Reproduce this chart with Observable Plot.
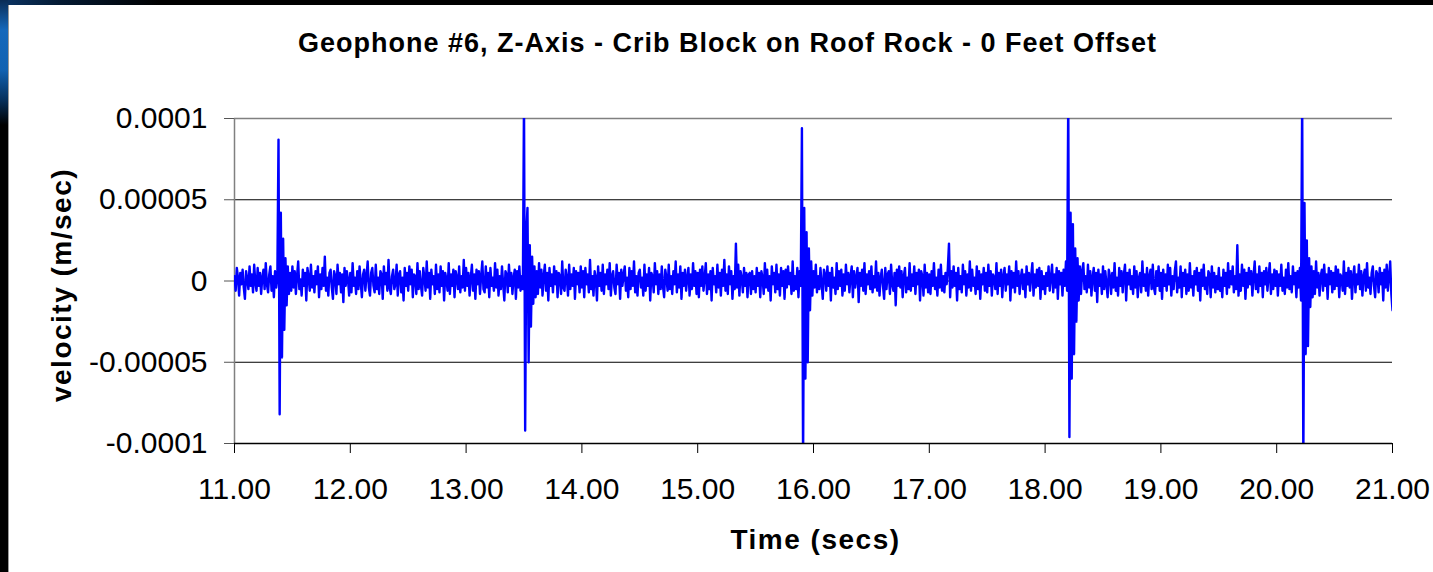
<!DOCTYPE html>
<html>
<head>
<meta charset="utf-8">
<script src="https://cdn.jsdelivr.net/npm/d3@7"></script>
<script src="https://cdn.jsdelivr.net/npm/@observablehq/plot@0.6"></script>
<style>
  html, body { margin: 0; padding: 0; }
  body { width: 1433px; height: 572px; overflow: hidden; background: #000; position: relative;
         font-family: Arial, "Liberation Sans", sans-serif; }
  #topstrip { position: absolute; left: 0; top: 0; width: 1433px; height: 5px;
              background: linear-gradient(to right, #0b3566 0px, #041a33 60px, #000 160px); }
  #leftstrip { position: absolute; left: 0; top: 0; width: 8px; height: 572px;
               background: linear-gradient(to bottom, #0a2c55 0px, #1568bb 30px, #1262b2 70px, #06305c 100px, #000 125px); }
  #panel { position: absolute; left: 8px; top: 5px; width: 1425px; height: 567px; background: #fff;
           border-left: 1px solid #9a9a9a; box-sizing: border-box; }
  #title { position: absolute; left: 0; top: 30px; width: 1455px; text-align: center;
           font: bold 27px/27px Arial, "Liberation Sans", sans-serif; letter-spacing: 1px; color: #000; }
  #chart { position: absolute; left: 9px; top: 80px; }
</style>
</head>
<body>
<div id="topstrip"></div>
<div id="leftstrip"></div>
<div id="panel"></div>
<div id="title">Geophone #6, Z-Axis - Crib Block on Roof Rock - 0 Feet Offset</div>
<div id="chart"></div>
<script>
// ---- data (velocity in units of 1e-6 m/sec, sampled every 0.01 s from 11.00 s) ----
const xLabel = "Time (secs)";
const yLabel = "velocity (m/sec)";
const startTime = 11.00;
const sampleStep = 0.01;
const velocityMicro = [
  // 11.00 - 11.49
  3, -6, 8, 2, -9, 5, -2, 7, -4, -11, 6, 1, -5, 9, -3, 4, -7, 10, -1, -6, 8, -3, 5, -8, 2,
  7, -5, 11, -2, -7, 4, 9, -6, 3, -10, 6, -4, 2, 87, -82, 42, -47, 26, -30, 14, -15, 9, -8, 5, -6,
  // 11.50 - 11.99
  9, -4, 6, -8, 3, 12, -5, 1, -9, 7, -3, 5, -12, 8, 2, -6, 10, -4, 3, -7, 6, -2, 9, -10, 4,
  -5, 8, -3, 15, -6, 2, -9, 5, 7, -4, -11, 6, 3, -8, 10, -2, 5, -7, 4, -13, 8, -3, 6, 1, -9,
  // 12.00 - 12.49
  5, -7, 11, -3, 2, -8, 6, -5, 9, -1, -10, 4, 7, -6, 3, 12, -4, -9, 5, 8, -3, -7, 10, -5, 2,
  -8, 6, 4, -11, 9, -2, 5, -6, 13, -4, -8, 3, 7, -5, -2, 10, -9, 4, 6, -7, 2, -12, 8, -3, 5,
  // 12.50 - 12.99
  -6, 9, -2, 7, -10, 4, 3, -8, 11, -5, 6, -3, -9, 8, 2, -6, 12, -4, 5, -11, 7, -2, 3, -8, 10,
  -5, 4, -7, 9, -3, 6, -12, 5, 1, -6, 11, -8, 4, -3, 7, -10, 6, 2, -5, 9, -7, 3, -4, 13, -6,
  // 13.00 - 13.49
  8, -3, 5, -9, 2, 10, -6, 4, -11, 7, -2, 6, -8, 3, 12, -5, -7, 9, -4, 5, -10, 8, -3, 2, -6,
  11, -4, 7, -9, 3, -5, 9, -2, -12, 6, 4, -7, 10, -3, 5, -8, 2, 7, -11, 6, -4, 9, -6, 3, -5,
  // 13.50 - 13.99
  112, -92, 30, 45, -50, 22, -28, 15, -14, 9, -10, 6, -8, 11, -4, 7, -9, 3, 10, -6, 5, -12, 8, -3, 4,
  -7, 9, -2, 6, -10, 5, 3, -8, 12, -4, -6, 7, 2, -9, 10, -5, 4, -3, 8, -11, 6, -2, 5, -7, 9,
  // 14.00 - 14.49
  -4, 6, -10, 8, -2, 4, -7, 13, -5, 3, -9, 6, 2, -12, 9, -3, 5, -6, 10, -8, 4, -2, 7, -5, 11,
  -9, 3, 6, -4, -8, 10, -2, 5, -11, 7, -3, 4, 9, -6, 2, -10, 8, -5, 6, -3, 12, -7, 3, -9, 5,
  // 14.50 - 14.99
  7, -4, 2, -9, 10, -6, 4, -3, 8, -12, 5, 3, -7, 11, -2, 6, -8, 4, -5, 9, -3, -10, 7, 2, -6,
  10, -5, 3, -8, 6, -2, 12, -7, 4, -4, 9, -11, 5, -3, 7, -6, 2, 8, -9, 4, -5, 11, -3, 6, -8,
  // 15.00 - 15.49
  5, -10, 7, -3, 9, -6, 2, 11, -8, 4, -5, 6, -12, 8, -2, 3, -7, 10, -4, 5, -9, 7, -3, 13, -6,
  4, -8, 9, -2, 6, -11, 3, -5, 23, -4, 10, -9, 6, 2, -7, 8, -3, 5, -10, 4, 5, -8, 6, -5, 3,
  // 15.50 - 15.99
  -7, 8, -3, 5, -10, 6, 2, -8, 11, -4, 7, -6, 3, -12, 9, -2, 5, -7, 10, -5, 4, -9, 8, -3, 6,
  -11, 7, -4, 9, -2, 5, -8, 12, -6, 3, -5, 8, -10, 6, -3, 94, -112, 45, -60, 30, -50, 20, -18, 12, -9,
  // 16.00 - 16.49
  6, -4, 10, -7, 3, -5, 8, -2, -11, 7, 4, -6, 9, -3, 5, -12, 8, -4, 2, -8, 11, -5, 6, -3, 7,
  -9, 4, -6, 10, -2, 5, -7, 3, 9, -10, 6, -4, 2, 8, -13, 5, -3, 7, -6, 11, -8, 4, -2, 6, -5,
  // 16.50 - 16.99
  9, -7, 3, -4, 12, -6, 5, -9, 2, 7, -3, -11, 8, -5, 4, 6, -8, 10, -2, -6, 5, -15, 7, -3, 9,
  -4, 6, -10, 3, 8, -7, 2, -5, 11, -6, 4, -3, 9, -8, 5, -2, 7, -12, 6, 3, -9, 10, -4, 5, -7,
  // 17.00 - 17.49
  4, -8, 6, -3, 11, -5, 2, -9, 7, -4, 10, -6, 3, -7, 5, -2, 8, 23, -10, 6, -4, 9, -3, 5, -12,
  8, -5, 3, -7, 10, -2, 6, -9, 4, -4, 12, -6, 7, -3, 2, -8, 9, -5, 6, -11, 4, -2, 8, -6, 5,
  // 17.50 - 17.99
  -7, 10, -3, 6, -9, 4, 2, -5, 11, -8, 5, -3, 7, -10, 3, 8, -6, 4, -2, 9, -12, 6, -4, 5, -7,
  12, -3, 6, -8, 2, 7, -5, 4, -10, 9, -2, 5, -6, 3, 11, -9, 4, -4, 7, -3, 8, -11, 6, -5, 3,
  // 18.00 - 18.49
  -8, 5, -3, 9, -6, 2, 10, -7, 4, -4, 8, -11, 6, -2, 5, -9, 7, -3, 12, -6, 112, -96, 42, -60, 35,
  -45, 20, -25, 14, -12, 9, -8, 6, 11, -5, 3, -7, 10, -4, 6, -9, 2, 8, -6, 5, -13, 7, -3, 4, -8,
  // 18.50 - 18.99
  9, -5, 6, -2, -10, 7, 3, -8, 5, -4, 11, -6, 2, -9, 8, -3, 6, -7, 4, 10, -12, 5, -2, 7, -5,
  3, -8, 9, -4, 6, -10, 2, 5, -7, 12, -3, 4, -6, 8, -9, 3, 7, -5, 10, -4, -8, 6, -3, 9, -6,
  // 19.00 - 19.49
  5, -11, 7, -3, 4, -6, 10, -2, 8, -9, 3, -5, 6, 12, -7, 2, -4, 9, -10, 5, -3, 7, -8, 4, -6,
  11, -4, 3, -9, 6, -2, 8, -6, 5, -12, 7, -3, 10, -5, 2, -8, 6, 4, -10, 9, -4, 5, -7, 3, -5,
  // 19.50 - 19.99
  8, -6, 2, -10, 7, -3, 5, -8, 11, -4, 6, -2, 9, -7, 3, -5, 22, -9, 4, -6, 10, -3, 7, -11, 5,
  -4, 8, -2, 6, -9, 3, 12, -5, 4, -7, 9, -3, 5, -10, 6, -2, 8, -6, 3, 11, -8, 4, -5, 7, -3,
  // 20.00 - 20.49
  6, -9, 4, -3, 10, -6, 2, -8, 7, -4, 11, -5, 3, -7, 9, -2, 5, -10, 6, -4, 8, -12, 112, -112, 48,
  -45, 25, -40, 14, -16, 9, -10, 6, -8, 12, -4, 5, -9, 3, 7, -6, 10, -3, 4, -11, 8, -2, 6, -7, 5,
  // 20.50 - 20.99
  -5, 9, -3, 7, -10, 4, 2, -6, 12, -8, 5, -3, 8, -4, 6, -11, 3, 9, -7, 4, -2, 10, -5, 6, -9,
  3, 7, -6, 11, -4, 2, -8, 5, 9, -3, -10, 6, 4, -7, 8, -2, 5, -12, 7, -4, 10, -6, 3, 12, -8,
  // 21.00
  -18
];
const xTickValues = [11, 12, 13, 14, 15, 16, 17, 18, 19, 20, 21];
const xTickLabels = ["11.00", "12.00", "13.00", "14.00", "15.00", "16.00", "17.00", "18.00", "19.00", "20.00", "21.00"];
const yTickValues = [-0.0001, -0.00005, 0, 0.00005, 0.0001];
const yTickLabels = ["-0.0001", "-0.00005", "0", "0.00005", "0.0001"];
const gridValues = [-0.00005, 0, 0.00005];

// ---- build table ----
const series = velocityMicro.map((v, i) => ({
  time: +(startTime + i * sampleStep).toFixed(2),
  velocity: v * 1e-6
}));

const fontFamily = "Arial, 'Liberation Sans', sans-serif";

const chart = Plot.plot({
  width: 1424,
  height: 492,
  marginLeft: 225,
  marginRight: 41,
  marginTop: 38,
  marginBottom: 129,
  style: { fontFamily, background: "transparent", overflow: "visible" },
  x: { domain: [11, 21] },
  y: { domain: [-0.0001, 0.0001] },
  marks: [
    Plot.ruleY(gridValues, { stroke: "#000", strokeWidth: 1 }),
    Plot.ruleY([0.0001], { stroke: "#808080", strokeWidth: 1.5 }),
    Plot.ruleX([11], { stroke: "#808080", strokeWidth: 1.5 }),
    Plot.line(series, { x: "time", y: "velocity", stroke: "#0000ff", strokeWidth: 2.4, clip: true }),
    Plot.ruleY([-0.0001], { stroke: "#000", strokeWidth: 1.5 }),
    Plot.axisX({
      ticks: xTickValues,
      tickFormat: (d) => xTickLabels[xTickValues.indexOf(d)],
      tickSize: 10, tickPadding: 24, fontSize: 30, label: null, stroke: "#000", color: "#000"
    }),
    Plot.axisY({
      ticks: yTickValues,
      tickFormat: (d) => yTickLabels[yTickValues.indexOf(d)],
      tickSize: 10, tickPadding: 17, fontSize: 30, label: null, stroke: "#555", color: "#000"
    }),
    Plot.text([xLabel], {
      frameAnchor: "bottom", lineAnchor: "bottom", dy: 105, dx: 2,
      fontSize: 28, fontWeight: "bold", fill: "#000"
    }),
    Plot.text([yLabel], {
      frameAnchor: "left", textAnchor: "middle", lineAnchor: "bottom", rotate: -90, dx: -164, dy: 4,
      fontSize: 28, fontWeight: "bold", fill: "#000"
    })
  ]
});

chart.querySelectorAll('g[aria-label="text"] text').forEach((t) => { t.style.letterSpacing = "1.5px"; });
document.getElementById("chart").appendChild(chart);
</script>
</body>
</html>
